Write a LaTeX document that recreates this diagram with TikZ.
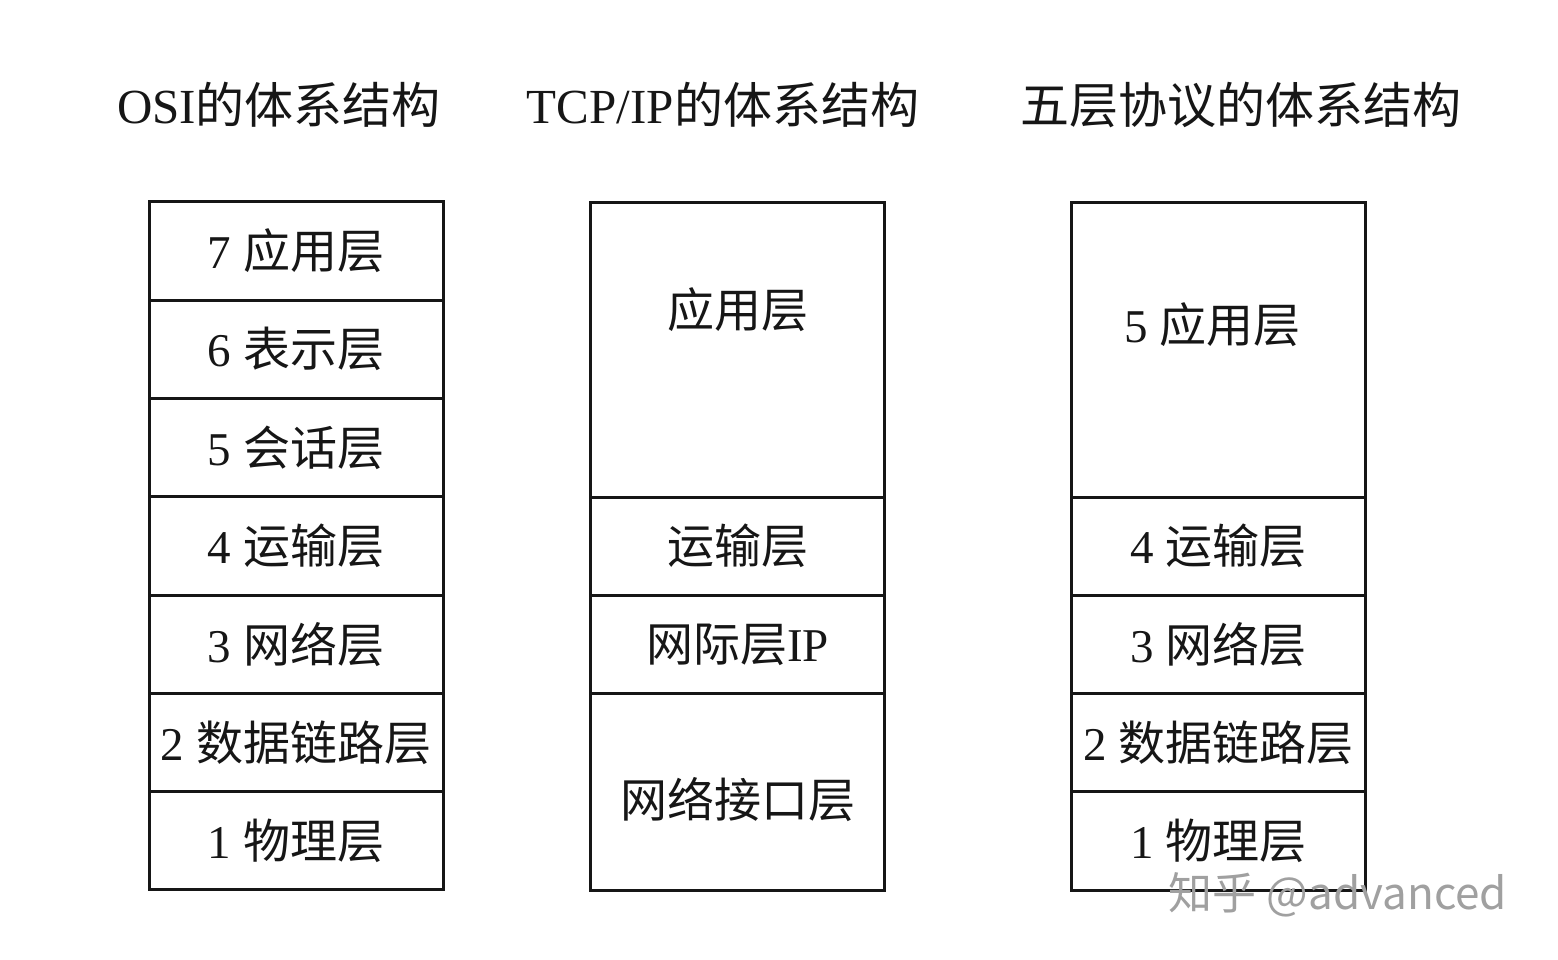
\documentclass[tikz,border=0pt]{standalone}
\usepackage{fontspec}
\setmainfont{Liberation Serif}
\newfontfamily\cjk{Noto Sans CJK SC}
\usetikzlibrary{positioning}
\definecolor{ink}{RGB}{22,22,22}
\definecolor{markgray}{RGB}{160,160,160}

\tikzset{
  layer/.style={draw=ink,line width=3pt,outer sep=0pt,inner sep=0pt,
    minimum width=294pt,text=ink,font=\fontsize{47}{52}\selectfont},
  lbl/.style={text=ink,font=\fontsize{47}{52}\selectfont},
  colhead/.style={text=ink,font=\fontsize{49}{54}\selectfont},
}

\begin{document}
\begin{tikzpicture}[x=1pt,y=-1pt]
  \fill[white] (0,0) rectangle (1558,959);
  \useasboundingbox (0,0) rectangle (1558,959);

  % headings
  \node[colhead] (osihead) at (279,105) {OSI\cjk 的体系结构};
  \node[colhead] (tcphead) at (723,105) {TCP/IP\cjk 的体系结构};
  \node[colhead] (fivehead) at (1241,105) {\cjk 五层协议的体系结构};

  % OSI, seven layers
  \node[layer,minimum height=98.3pt] (osi7) at (296,251) {7 \cjk 应用层};
  \node[layer,minimum height=98.3pt,below=0pt of osi7] (osi6) {6 \cjk 表示层};
  \node[layer,minimum height=98.3pt,below=0pt of osi6] (osi5) {5 \cjk 会话层};
  \node[layer,minimum height=98.3pt,below=0pt of osi5] (osi4) {4 \cjk 运输层};
  \node[layer,minimum height=98.3pt,below=0pt of osi4] (osi3) {3 \cjk 网络层};
  \node[layer,minimum height=98.3pt,below=0pt of osi3] (osi2) {2 \cjk 数据链路层};
  \node[layer,minimum height=98.3pt,below=0pt of osi2] (osi1) {1 \cjk 物理层};

  % TCP/IP
  \node[layer,minimum height=295pt] (tcpapp) at (737.5,349.5) {};
  \node[lbl] (tcpapptext) at ([yshift=40pt]tcpapp.center) {\cjk 应用层};
  \node[layer,minimum height=98.3pt,below=0pt of tcpapp] (tcptrans) {\cjk 运输层};
  \node[layer,minimum height=98.3pt,below=0pt of tcptrans] (tcpip) {{\cjk 网际层}IP};
  \node[layer,minimum height=196.6pt,below=0pt of tcpip] (tcpnet) {};
  \node[lbl] (tcpnettext) at ([yshift=-8pt]tcpnet.center) {\cjk 网络接口层};

  % five layers
  \node[layer,minimum height=295pt] (fiveapp) at (1218.5,349.5) {};
  \node[lbl] (fiveapptext) at ([xshift=-6pt,yshift=25pt]fiveapp.center) {5 \cjk 应用层};
  \node[layer,minimum height=98.3pt,below=0pt of fiveapp] (five4) {4 \cjk 运输层};
  \node[layer,minimum height=98.3pt,below=0pt of five4] (five3) {3 \cjk 网络层};
  \node[layer,minimum height=98.3pt,below=0pt of five3] (five2) {2 \cjk 数据链路层};
  \node[layer,minimum height=98.3pt,below=0pt of five2] (five1) {1 \cjk 物理层};

  % watermark
  \node[text=markgray,font=\cjk\fontsize{44}{48}\selectfont] (wmark) at (1338,895) {知乎 @advanced};
\end{tikzpicture}
\end{document}
